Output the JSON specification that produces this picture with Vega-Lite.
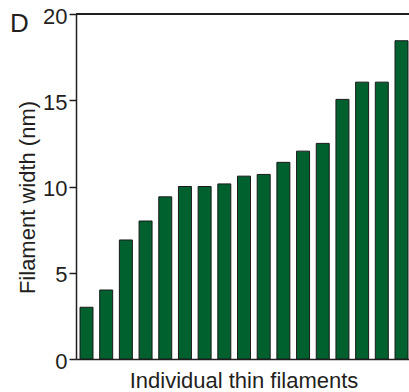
{
  "$schema": "https://vega.github.io/schema/vega-lite/v6.json",
  "autosize": "none",
  "width": 333,
  "height": 345,
  "padding": {"left": 76, "top": 14, "right": 0, "bottom": 33},
  "background": "white",
  "config": {
    "view": {"stroke": null},
    "font": "Liberation Sans"
  },
  "title": {
    "text": "D",
    "anchor": "start",
    "frame": "group",
    "baseline": "alphabetic",
    "offset": 0,
    "dx": -66,
    "dy": 53,
    "fontSize": 26,
    "fontWeight": "normal",
    "color": "#231f20",
    "font": "Liberation Sans"
  },
  "data": {
    "values": [
      {"filament": 1, "width": 3.0},
      {"filament": 2, "width": 4.0},
      {"filament": 3, "width": 6.9},
      {"filament": 4, "width": 8.0},
      {"filament": 5, "width": 9.4},
      {"filament": 6, "width": 10.0},
      {"filament": 7, "width": 10.0},
      {"filament": 8, "width": 10.15},
      {"filament": 9, "width": 10.6},
      {"filament": 10, "width": 10.7},
      {"filament": 11, "width": 11.4},
      {"filament": 12, "width": 12.05},
      {"filament": 13, "width": 12.5},
      {"filament": 14, "width": 15.05},
      {"filament": 15, "width": 16.05},
      {"filament": 16, "width": 16.05},
      {"filament": 17, "width": 18.45}
    ]
  },
  "layer": [
    {
      "mark": {"type": "bar", "fill": "#00612e", "stroke": "#1a1a1a", "strokeWidth": 1},
      "encoding": {
        "x": {
          "field": "filament",
          "type": "ordinal",
          "sort": null,
          "scale": {"paddingInner": 0.34, "paddingOuter": 0.127, "align": 0.8},
          "axis": {
            "labels": false,
            "ticks": false,
            "grid": false,
            "domain": true,
            "domainColor": "#231f20",
            "domainWidth": 1.5,
            "title": "Individual thin filaments",
            "titleFont": "Liberation Sans",
            "titleFontSize": 22,
            "titleFontWeight": "normal",
            "titleColor": "#231f20",
            "titleBaseline": "alphabetic",
            "titleAlign": "center",
            "titleX": 167.5,
            "titleY": 28
          }
        },
        "y": {
          "field": "width",
          "type": "quantitative",
          "scale": {"domain": [0, 20], "nice": false},
          "axis": {
            "values": [0, 5, 10, 15, 20],
            "grid": false,
            "domainColor": "#231f20",
            "domainWidth": 1.5,
            "tickColor": "#231f20",
            "tickWidth": 1.5,
            "tickSize": 7,
            "labelPadding": 2,
            "labelOffset": 2,
            "labelFont": "Liberation Sans",
            "labelFontSize": 22,
            "labelColor": "#231f20",
            "title": "Filament width (nm)",
            "titleFont": "Liberation Sans",
            "titleFontSize": 22,
            "titleFontWeight": "normal",
            "titleColor": "#231f20",
            "titleAngle": -90,
            "titleBaseline": "alphabetic",
            "titleAlign": "center",
            "titleX": -42,
            "titleY": 183
          }
        }
      }
    },
    {
      "mark": {"type": "rule", "color": "#231f20", "strokeWidth": 1.5},
      "encoding": {
        "y": {"datum": 20}
      }
    }
  ]
}
